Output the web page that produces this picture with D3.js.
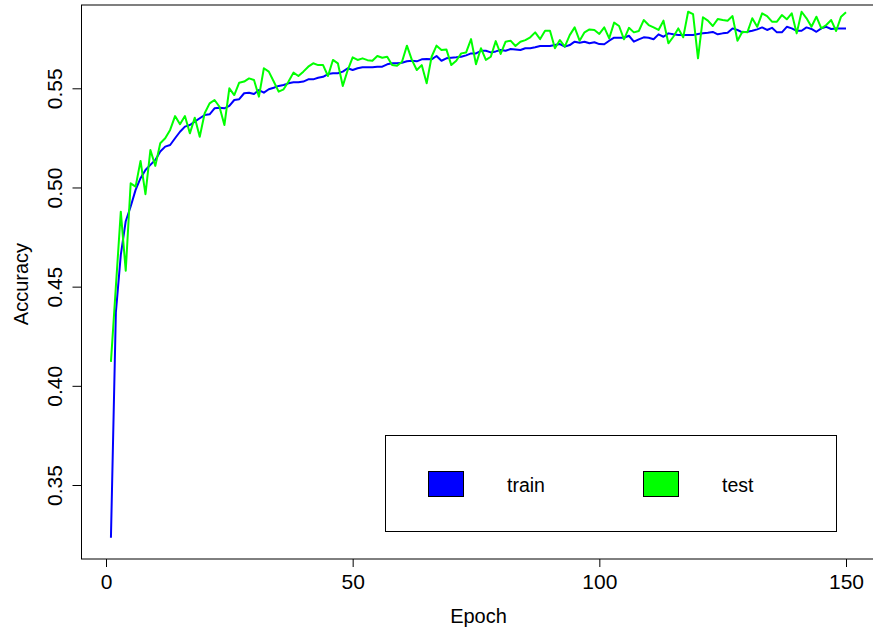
<!DOCTYPE html>
<html>
<head>
<meta charset="utf-8">
<script src="https://cdn.jsdelivr.net/npm/d3@7"></script>
<style>
  body { margin: 0; background: #fff; }
  svg { display: block; font-family: "Liberation Sans", Arial, sans-serif; }
</style>
</head>
<body>
<svg width="873" height="631"></svg>
<script>
// accuracy per epoch
var trainAcc = [
  0.3234, 0.437, 0.466, 0.483, 0.4904, 0.4988, 0.5047, 0.5088, 0.5114, 0.5139,
  0.5181, 0.5206, 0.5214, 0.5248, 0.5281, 0.5307, 0.5315, 0.5332, 0.5349, 0.5365,
  0.5369, 0.5399, 0.5402, 0.5399, 0.5411, 0.5441, 0.5445, 0.5475, 0.5478, 0.5471,
  0.5491, 0.5478, 0.5495, 0.5503, 0.5512, 0.5517, 0.5525, 0.553, 0.553, 0.5534,
  0.5545, 0.5545, 0.5553, 0.5558, 0.5572, 0.5576, 0.5576, 0.5584, 0.5601, 0.5592,
  0.5601, 0.5606, 0.5606, 0.5606, 0.5609, 0.5609, 0.5621, 0.5626, 0.5626, 0.5629,
  0.5636, 0.5639, 0.5636, 0.5646, 0.5648, 0.5646, 0.5663, 0.5639, 0.5651, 0.5654,
  0.5656, 0.5659, 0.5666, 0.5676, 0.5676, 0.5689, 0.5689, 0.5681, 0.5686, 0.5693,
  0.5689, 0.5698, 0.5696, 0.5693, 0.5702, 0.5702, 0.5707, 0.5713, 0.5713, 0.5713,
  0.5718, 0.5723, 0.571, 0.5718, 0.5735, 0.573, 0.5735, 0.5727, 0.5732, 0.5723,
  0.5722, 0.574, 0.5755, 0.5755, 0.5755, 0.5765, 0.5735, 0.5747, 0.5757, 0.5755,
  0.5747, 0.5772, 0.576, 0.5777, 0.5772, 0.5769, 0.5769, 0.5769, 0.5769, 0.5774,
  0.5777, 0.578, 0.5784, 0.5772, 0.5777, 0.578, 0.5802, 0.5794, 0.5782, 0.5785,
  0.579, 0.5797, 0.5807, 0.5794, 0.5805, 0.5782, 0.5782, 0.581, 0.5802, 0.579,
  0.579, 0.5807, 0.5799, 0.5785, 0.5802, 0.581, 0.5799, 0.5802, 0.5802, 0.5802
];
var testAcc = [
  0.4121, 0.45, 0.4878, 0.458, 0.5021, 0.5004, 0.5134, 0.4966, 0.5189, 0.5109,
  0.5223, 0.5248, 0.529, 0.536, 0.5319, 0.536, 0.5273, 0.5352, 0.5256, 0.5374,
  0.5424, 0.5441, 0.5407, 0.5315, 0.55, 0.5466, 0.5528, 0.5534, 0.555, 0.5542,
  0.5458, 0.5601, 0.5584, 0.5534, 0.5483, 0.5495, 0.5534, 0.5579, 0.5562, 0.5584,
  0.5609, 0.5626, 0.5617, 0.5617, 0.5562, 0.5643, 0.5626, 0.5512, 0.5592, 0.5656,
  0.5643, 0.5651, 0.5642, 0.5639, 0.5663, 0.5654, 0.5659, 0.5617, 0.5614, 0.5634,
  0.5715, 0.5643, 0.5592, 0.5617, 0.5525, 0.5659, 0.5715, 0.5693, 0.5696, 0.5617,
  0.5639, 0.5676, 0.5681, 0.5748, 0.5621, 0.5702, 0.5643, 0.5659, 0.5738, 0.5673,
  0.5735, 0.574, 0.5713, 0.5735, 0.5743, 0.5757, 0.5782, 0.5748, 0.579, 0.579,
  0.5702, 0.5743, 0.571, 0.5768, 0.5807, 0.574, 0.5782, 0.5797, 0.5794, 0.5774,
  0.5807, 0.5752, 0.5831, 0.5814, 0.5747, 0.5805, 0.5782, 0.5789, 0.5844, 0.5819,
  0.5807, 0.5794, 0.5841, 0.5727, 0.576, 0.5802, 0.5757, 0.5886, 0.5874, 0.5651,
  0.5858, 0.5841, 0.5814, 0.5849, 0.5844, 0.5841, 0.5864, 0.574, 0.5785, 0.5782,
  0.5853, 0.581, 0.5878, 0.5864, 0.5836, 0.5836, 0.5869, 0.5848, 0.5878, 0.5777,
  0.5886, 0.5853, 0.581, 0.5861, 0.5802, 0.5819, 0.5844, 0.5789, 0.5861, 0.5883
];
var epochs = d3.range(1, trainAcc.length + 1);

var xTicks = [0, 50, 100, 150];
var yTicks = [0.35, 0.40, 0.45, 0.50, 0.55];

var seriesNames = ['train', 'test'];
var seriesColors = ['#0000ff', '#00ff00'];

var svg = d3.select('svg');

// plot region (right edge runs just past the picture)
var box = { l: 81.5, t: 5, r: 875, b: 559 };

var xScale = d3.scaleLinear().domain([0, 150]).range([106, 846]);
var yScale = d3.scaleLinear().domain([0.35, 0.55]).range([485, 88.3]);

// lines
var line = d3.line()
    .x(function(d) { return xScale(d.e); })
    .y(function(d) { return yScale(d.v); });

[trainAcc, testAcc].forEach(function(vals, k) {
    svg.append('path')
        .datum(epochs.map(function(e, i) { return { e: e, v: vals[i] }; }))
        .attr('d', line)
        .attr('fill', 'none')
        .attr('stroke', seriesColors[k])
        .attr('stroke-width', 2)
        .attr('stroke-linejoin', 'round');
});

// box
svg.append('rect')
    .attr('x', box.l).attr('y', box.t)
    .attr('width', box.r - box.l).attr('height', box.b - box.t)
    .attr('fill', 'none').attr('stroke', '#000').attr('stroke-width', 1);

// x axis
var xAxisG = svg.append('g')
    .attr('transform', 'translate(0,' + box.b + ')')
    .call(d3.axisBottom(xScale).tickValues(xTicks).tickSize(8).tickFormat(d3.format('d')));
xAxisG.select('.domain').remove();
xAxisG.selectAll('.tick text')
    .attr('y', 30).attr('dy', 0)
    .style('font-size', '21px')
    .style('font-family', '"Liberation Sans", Arial, sans-serif');

// y axis, labels turned like R does
var yAxisG = svg.append('g')
    .attr('transform', 'translate(' + box.l + ',0)')
    .call(d3.axisLeft(yScale).tickValues(yTicks).tickSize(9).tickFormat(d3.format('.2f')));
yAxisG.select('.domain').remove();
yAxisG.selectAll('.tick text')
    .attr('x', 0).attr('y', 0).attr('dy', 0)
    .attr('text-anchor', 'middle')
    .attr('transform', 'translate(-19.5,0) rotate(-90)')
    .style('font-size', '21px')
    .style('font-family', '"Liberation Sans", Arial, sans-serif');

// axis titles
svg.append('text')
    .attr('x', 478.5).attr('y', 623)
    .attr('text-anchor', 'middle')
    .style('font-size', '20px')
    .text('Epoch');
svg.append('text')
    .attr('transform', 'translate(28,284) rotate(-90)')
    .attr('text-anchor', 'middle')
    .style('font-size', '20px')
    .text('Accuracy');

// legend
var legendG = svg.append('g');
legendG.append('rect')
    .attr('x', 385.5).attr('y', 435.5)
    .attr('width', 451).attr('height', 96)
    .attr('fill', '#fff').attr('stroke', '#000');

var legendX = [428, 643];
seriesNames.forEach(function(name, i) {
    legendG.append('rect')
        .attr('x', legendX[i] + 0.5).attr('y', 471.5)
        .attr('width', 35).attr('height', 25)
        .attr('fill', seriesColors[i]).attr('stroke', '#000');
    legendG.append('text')
        .attr('x', legendX[i] + 79).attr('y', 492)
        .style('font-size', '19.5px')
        .text(name);
});
</script>
</body>
</html>
